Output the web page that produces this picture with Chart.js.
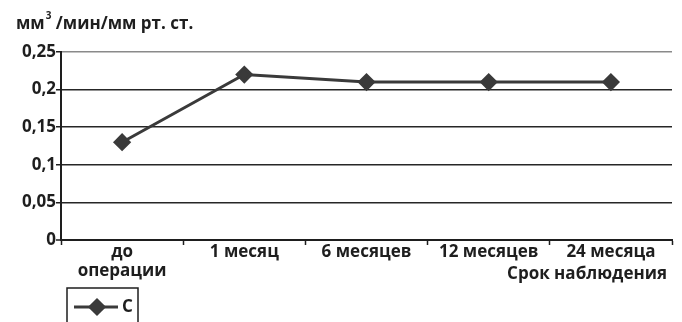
<!DOCTYPE html>
<html>
<head>
<meta charset="utf-8">
<script src="https://cdn.jsdelivr.net/npm/chart.js@4"></script>
<style>
  html, body { margin: 0; padding: 0; background: #fff; }
  #wrap { width: 682px; height: 322px; position: relative; }
</style>
</head>
<body>
<div id="wrap"><canvas id="c" width="682" height="322"></canvas></div>
<script>
// Observation periods and measured values
const categories = [['до', 'операции'], '1 месяц', '6 месяцев', '12 месяцев', '24 месяца'];
const seriesName = 'С';
const seriesC = [0.13, 0.22, 0.21, 0.21, 0.21];
const yTickLabels = ['0', '0,05', '0,1', '0,15', '0,2', '0,25'];
const unitsTitle = ['мм', '3', ' /мин/мм рт. ст.'];
const xAxisTitle = 'Срок наблюдения';

const FONT = '"Open Sans", "Liberation Sans", sans-serif';
const INK = '#1e1e1e';
const LINE = '#3a3a3a';

// Extra text: units above the y axis, x axis title and the boxed legend
const annotations = {
  id: 'annotations',
  afterDraw(chart) {
    const ctx = chart.ctx;
    ctx.save();
    ctx.fillStyle = INK;
    ctx.textBaseline = 'alphabetic';
    // units
    ctx.font = '700 17px ' + FONT;
    let x = 16;
    const y = 29;
    ctx.textAlign = 'left';
    ctx.fillText(unitsTitle[0], x, y);
    x += ctx.measureText(unitsTitle[0]).width;
    ctx.font = '700 10px ' + FONT;
    ctx.fillText(unitsTitle[1], x + 1, y - 10);
    x += ctx.measureText(unitsTitle[1]).width + 1;
    ctx.font = '700 17px ' + FONT;
    ctx.fillText(unitsTitle[2], x, y);
    // x axis title
    ctx.font = '700 17px ' + FONT;
    ctx.textAlign = 'right';
    ctx.textBaseline = 'middle';
    ctx.fillText(xAxisTitle, 667, 274);
    // legend
    const ds = chart.data.datasets[0];
    const bx = 67, by = 288;
    ctx.strokeStyle = INK;
    ctx.lineWidth = 1.5;
    ctx.beginPath();
    ctx.moveTo(bx, 330); ctx.lineTo(bx, by); ctx.lineTo(138, by); ctx.lineTo(138, 330);
    ctx.stroke();
    const ly = 307;
    ctx.strokeStyle = ds.borderColor;
    ctx.lineWidth = ds.borderWidth;
    ctx.beginPath();
    ctx.moveTo(74, ly); ctx.lineTo(118, ly);
    ctx.stroke();
    Chart.helpers.drawPoint(ctx, { pointStyle: ds.pointStyle, radius: ds.pointRadius, borderWidth: 1 }, 97, ly);
    ctx.fillStyle = ds.borderColor;
    ctx.fill();
    ctx.fillStyle = INK;
    ctx.font = '700 17px ' + FONT;
    ctx.textAlign = 'left';
    ctx.fillText(ds.label, 122, ly);
    ctx.restore();
  }
};

new Chart(document.getElementById('c'), {
  type: 'line',
  data: {
    labels: categories,
    datasets: [{
      label: seriesName,
      data: seriesC,
      borderColor: LINE,
      borderWidth: 3,
      backgroundColor: LINE,
      pointStyle: 'rectRot',
      pointRadius: 7,
      pointHoverRadius: 7,
      pointBackgroundColor: LINE,
      pointBorderColor: LINE,
      tension: 0
    }]
  },
  options: {
    responsive: false,
    animation: false,
    events: [],
    layout: { padding: { top: 52, right: 7, left: 0, bottom: 0 } },
    plugins: { legend: { display: false }, title: { display: false }, tooltip: { enabled: false } },
    scales: {
      x: {
        type: 'category',
        offset: true,
        afterFit(scale) { scale.height = 82; },
        grid: {
          offset: true,
          drawOnChartArea: false,
          drawTicks: true,
          tickLength: 5,
          tickColor: INK,
          tickWidth: 1.5
        },
        border: { display: true, color: INK, width: 2 },
        ticks: {
          color: INK,
          font: { family: FONT, size: 17, weight: '700', lineHeight: 1.1 },
          padding: -2,
          maxRotation: 0,
          autoSkip: false
        }
      },
      y: {
        min: 0,
        max: 0.25,
        afterFit(scale) { scale.width = 61; },
        afterBuildTicks(scale) {
          scale.ticks = yTickLabels.map((_, i) => ({ value: i * 0.05 }));
        },
        grid: {
          color: (c) => (c.index === yTickLabels.length - 1 ? '#8a8a8a' : '#262626'),
          lineWidth: (c) => (c.index === 0 ? 0 : 1.5),
          drawTicks: true,
          tickLength: 5,
          tickColor: INK,
          tickWidth: 1.5
        },
        border: { display: true, color: INK, width: 2 },
        ticks: {
          color: INK,
          font: { family: FONT, size: 17, weight: '700' },
          padding: 0,
          callback: (v, i) => yTickLabels[i]
        }
      }
    }
  },
  plugins: [annotations]
});
</script>
</body>
</html>
